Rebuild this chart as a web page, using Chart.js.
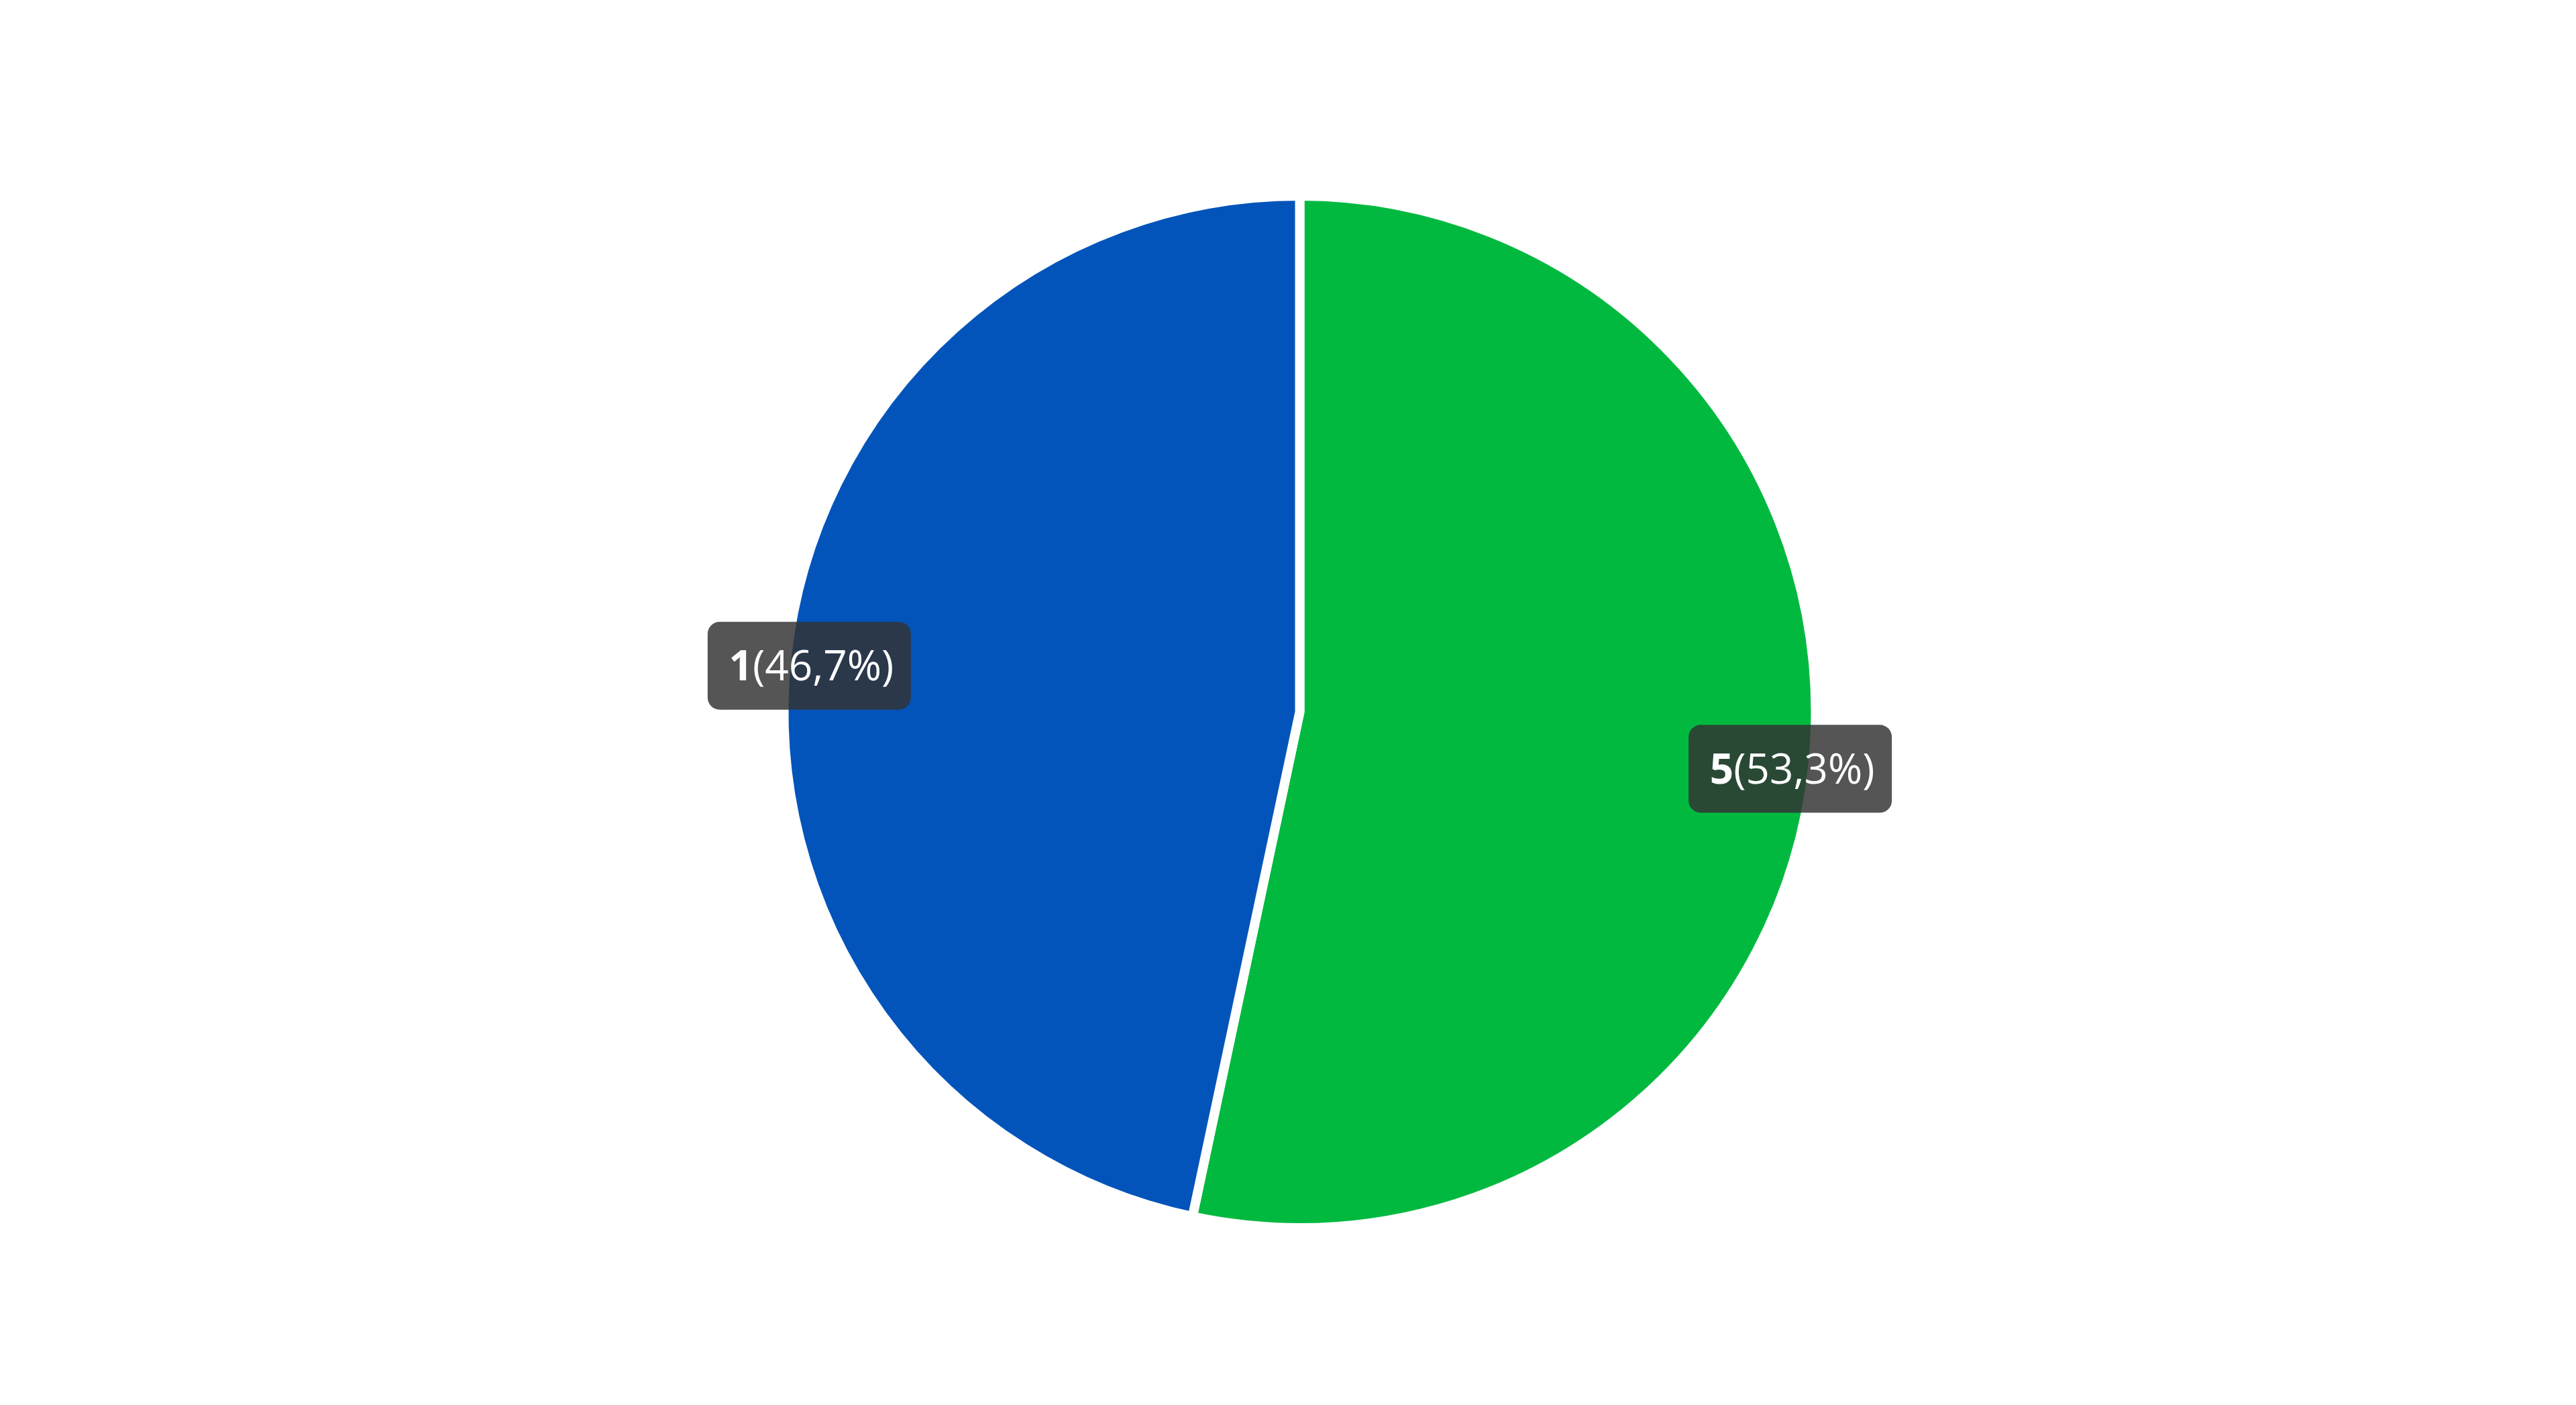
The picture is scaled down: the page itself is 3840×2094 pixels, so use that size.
<!DOCTYPE html>
<html>
<head>
<meta charset="utf-8">
<script src="https://cdn.jsdelivr.net/npm/chart.js@4/dist/chart.umd.min.js"></script>
<style>
  html, body { margin: 0; padding: 0; background: #ffffff; }
  #wrap { width: 3840px; height: 2094px; position: relative; }
</style>
</head>
<body>
<div id="wrap"><canvas id="pie-chart"></canvas></div>
<script>
// Chart data
const categories = ['5', '1'];
const counts = [8, 7];
const sliceColors = ['#02b940', '#0254bb'];

// Draw "label(percent)" boxes at the outer edge of each slice
const edgeLabels = {
  id: 'edgeLabels',
  afterDatasetsDraw(chart) {
    const ctx = chart.ctx;
    const meta = chart.getDatasetMeta(0);
    const values = chart.data.datasets[0].data;
    const total = values.reduce((a, b) => a + b, 0);
    const fontSize = 62;
    const boldFont = 'bold ' + fontSize + 'px "Open Sans"';
    const normFont = fontSize + 'px "Open Sans"';

    meta.data.forEach((arc, i) => {
      const p = arc.getProps(['x', 'y', 'startAngle', 'endAngle', 'outerRadius'], true);
      const mid = (p.startAngle + p.endAngle) / 2;
      const cx = p.x + Math.cos(mid) * p.outerRadius * 0.956;
      const cy = p.y + Math.sin(mid) * p.outerRadius * 0.956 + 8;

      const name = chart.data.labels[i];
      const pct = '(' + (values[i] / total * 100).toFixed(1).replace('.', ',') + '%)';

      ctx.save();
      ctx.font = boldFont;
      const w1 = ctx.measureText(name).width;
      ctx.font = normFont;
      const w2 = ctx.measureText(pct).width;
      const boxW = 303;
      const boxH = 131;

      ctx.fillStyle = 'rgba(50, 50, 50, 0.83)';
      ctx.beginPath();
      ctx.roundRect(cx - boxW / 2, cy - boxH / 2, boxW, boxH, 18);
      ctx.fill();

      ctx.fillStyle = '#ffffff';
      ctx.textBaseline = 'alphabetic';
      ctx.textAlign = 'left';
      const baseY = cy + 22;
      const startX = cx - (w1 + w2) / 2 + 3;
      ctx.font = boldFont;
      ctx.fillText(name, startX, baseY);
      ctx.font = normFont;
      ctx.fillText(pct, startX + w1, baseY);
      ctx.restore();
    });
  }
};

function initPieChart() {
  const ctx = document.getElementById('pie-chart').getContext('2d');

  window.pieChart = new Chart(ctx, {
    type: 'pie',
    data: {
      labels: categories,
      datasets: [{
        data: counts,
        backgroundColor: sliceColors,
        borderColor: '#ffffff',
        borderWidth: 14,
        hoverOffset: 0
      }]
    },
    options: {
      responsive: true,
      maintainAspectRatio: false,
      animation: false,
      radius: 769,
      layout: {
        padding: { left: 35, right: 0, top: 28, bottom: 0 }
      },
      plugins: {
        legend: { display: false },
        tooltip: { enabled: false }
      }
    },
    plugins: [edgeLabels]
  });
}

document.addEventListener('DOMContentLoaded', function() {
  initPieChart();
});
</script>
</body>
</html>
